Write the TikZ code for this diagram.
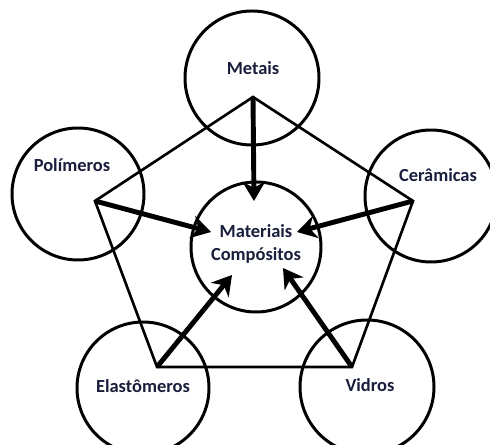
\documentclass[tikz,border=0pt]{standalone}
\usepackage{fontspec}
\setmainfont{Carlito}
\usepackage{tikz}
\usetikzlibrary{arrows.meta,positioning,calc}
\usepackage{xcolor}
\definecolor{matnavy}{RGB}{25,30,60}
\definecolor{matline}{RGB}{0,0,0}
\tikzset{
    ring/.style={circle, draw=matline, line width=1.7pt, inner sep=0pt, outer sep=0pt},
    matlabel/.style={font=\bfseries\fontsize{10.5}{13}\selectfont, text=matnavy, align=center, inner sep=0pt},
    edge/.style={line width=1.5pt, matline, line join=miter},
    push/.style={line width=2.8pt, matline, -{Stealth[length=11pt, width=13pt, inset=3.5pt]}},
}
\begin{document}
\begin{tikzpicture}[x=0.02cm, y=-0.02cm]
    \useasboundingbox (0,0) rectangle (490,445);
    % circles
    \foreach \x/\y/\r/\name in {252/78/67/met, 78/194/66/pol, 431/196/66/cer, 143/388/66/ela, 367/387/67/vid, 256/247/65/mat} {
        \node[ring, minimum size=2*\r*0.02cm] (\name) at (\x,\y) {};
    }
    \node[matlabel] (metL) at (253,68) {Metais};
    \node[matlabel] (polL) at (72,165) {Polímeros};
    \node[matlabel] (cerL) at (438,175) {Cerâmicas};
    \node[matlabel] (elaL) at (143,386) {Elastômeros};
    \node[matlabel] (vidL) at (370,385) {Vidros};
    \node[matlabel] (matL) at (256,244) {Materiais\\Compósitos};

    % pentagon
    \coordinate (vT) at (253,97);
    \coordinate (vL) at (95,201);
    \coordinate (vR) at (413,201);
    \coordinate (vBL) at (157,367);
    \coordinate (vBR) at (352,367);
    \draw[edge] (vT) -- (vR) -- (vBR) -- (vBL) -- (vL) -- cycle;

    % arrows into the centre
    \coordinate (tT) at (254,201);
    \coordinate (tL) at (211,232);
    \coordinate (tR) at (297,232);
    \coordinate (tBL) at (232,275);
    \coordinate (tBR) at (283,268);
    \draw[push] (vT) -- (tT);
    \draw[push] (vL) -- (tL);
    \draw[push] (vR) -- (tR);
    \draw[push] (vBL) -- (tBL);
    \draw[push] (vBR) -- (tBR);
\end{tikzpicture}
\end{document}
